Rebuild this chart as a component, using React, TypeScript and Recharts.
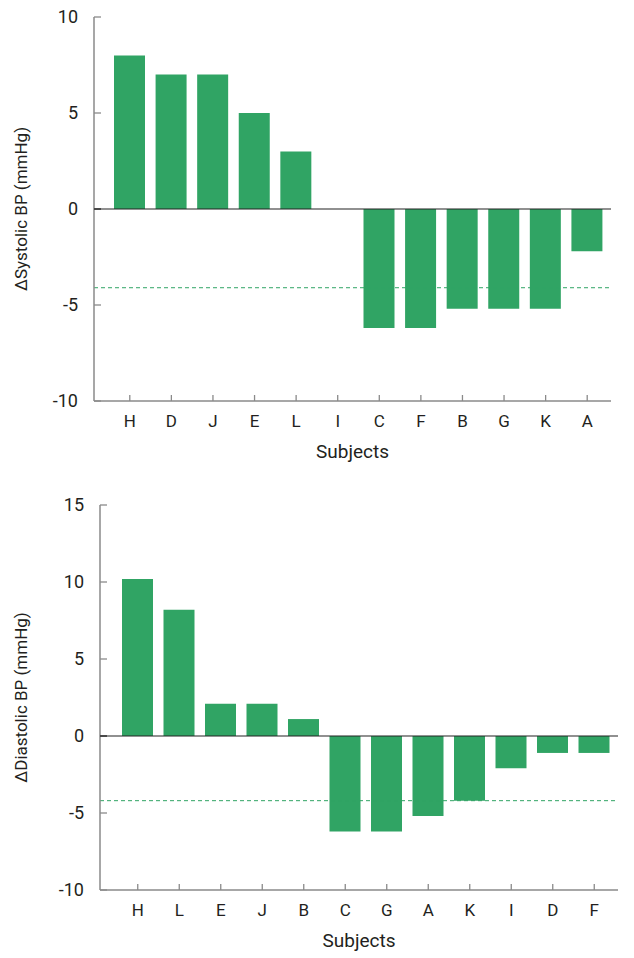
import { BarChart, Bar, XAxis, YAxis, ReferenceLine, Label } from 'recharts';

const systolicSubjects = ['H', 'D', 'J', 'E', 'L', 'I', 'C', 'F', 'B', 'G', 'K', 'A'];
const systolicValues = [8, 7, 7, 5, 3, 0, -6.2, -6.2, -5.2, -5.2, -5.2, -2.2];
const systolicTicks = [-10, -5, 0, 5, 10];
const systolicMean = -4.1;

const diastolicSubjects = ['H', 'L', 'E', 'J', 'B', 'C', 'G', 'A', 'K', 'I', 'D', 'F'];
const diastolicValues = [10.2, 8.2, 2.1, 2.1, 1.1, -6.2, -6.2, -5.2, -4.2, -2.1, -1.1, -1.1];
const diastolicTicks = [-10, -5, 0, 5, 10, 15];
const diastolicMean = -4.2;

const FONT = "Roboto, 'Liberation Sans Narrow', sans-serif";
const GREEN = '#30a464';
const AXIS = '#8a8a8a';
const TEXT = '#231f20';

const XTick = ({ x, y, payload }: any) => (
  <g>
    <line x1={x} x2={x} y1={y - 6} y2={y} stroke={AXIS} strokeWidth={1.3} />
    <text x={x} y={y + 26} textAnchor="middle" fontSize={17} fill={TEXT} fontFamily={FONT}>
      {payload.value}
    </text>
  </g>
);

const YTick = ({ x, y, payload }: any) => (
  <g>
    <line x1={x} x2={x + 7} y1={y} y2={y} stroke={payload.value === 0 ? '#222' : AXIS} strokeWidth={1.3} />
    <text x={x - 16} y={y + 6} textAnchor="end" fontSize={18} fill={TEXT} fontFamily={FONT}>
      {payload.value}
    </text>
  </g>
);

function Panel({
  subjects, values, ticks, mean, domain, label, height, margin, padLeft,
}: {
  subjects: string[]; values: number[]; ticks: number[]; mean: number; domain: [number, number];
  label: string; height: number; margin: any; padLeft: number;
}) {
  const data = subjects.map((s, i) => ({ subject: s, value: values[i] }));
  return (
    <BarChart width={634} height={height} data={data} margin={margin}>
      <XAxis
        dataKey="subject"
        height={55}
        padding={{ left: padLeft, right: 3 }}
        axisLine={{ stroke: AXIS, strokeWidth: 1.5 }}
        tickLine={false}
        tickSize={0}
        tickMargin={0}
        tick={<XTick />}
        interval={0}
      >
        <Label
          content={({ viewBox }: any) => (
            <text
              x={viewBox.x + viewBox.width / 2}
              y={viewBox.y + 57}
              textAnchor="middle"
              fontSize={19}
              fill={TEXT}
              fontFamily={FONT}
            >
              Subjects
            </text>
          )}
        />
      </XAxis>
      <YAxis
        width={60}
        domain={domain}
        ticks={ticks}
        type="number"
        allowDataOverflow
        axisLine={{ stroke: AXIS, strokeWidth: 1.5 }}
        tickLine={false}
        tickSize={0}
        tickMargin={0}
        tick={<YTick />}
      >
        <Label
          content={({ viewBox }: any) => {
            const cy = viewBox.y + viewBox.height / 2;
            return (
              <text
                x={27}
                y={cy}
                transform={`rotate(-90 27 ${cy})`}
                textAnchor="middle"
                fontSize={17}
                fill={TEXT}
                fontFamily={FONT}
              >
                {label}
              </text>
            );
          }}
        />
      </YAxis>
      <Bar dataKey="value" fill={GREEN} barSize={31} isAnimationActive={false} />
      <ReferenceLine y={0} stroke="#222" strokeWidth={1.2} />
      <ReferenceLine y={mean} stroke={GREEN} strokeWidth={1} strokeDasharray="4 3" />
    </BarChart>
  );
}

export default function App() {
  return (
    <div style={{ position: 'absolute', left: 0, top: 0, width: 634, height: 958, background: '#fff' }}>
      <Panel
        subjects={systolicSubjects}
        values={systolicValues}
        ticks={systolicTicks}
        mean={systolicMean}
        domain={[-10, 10]}
        label="ΔSystolic BP (mmHg)"
        height={470}
        margin={{ top: 17, right: 23, bottom: 14, left: 34 }}
        padLeft={15}
      />
      <Panel
        subjects={diastolicSubjects}
        values={diastolicValues}
        ticks={diastolicTicks}
        mean={diastolicMean}
        domain={[-10, 15]}
        label="ΔDiastolic BP (mmHg)"
        height={488}
        margin={{ top: 35, right: 16, bottom: 13, left: 40 }}
        padLeft={17}
      />
    </div>
  );
}
